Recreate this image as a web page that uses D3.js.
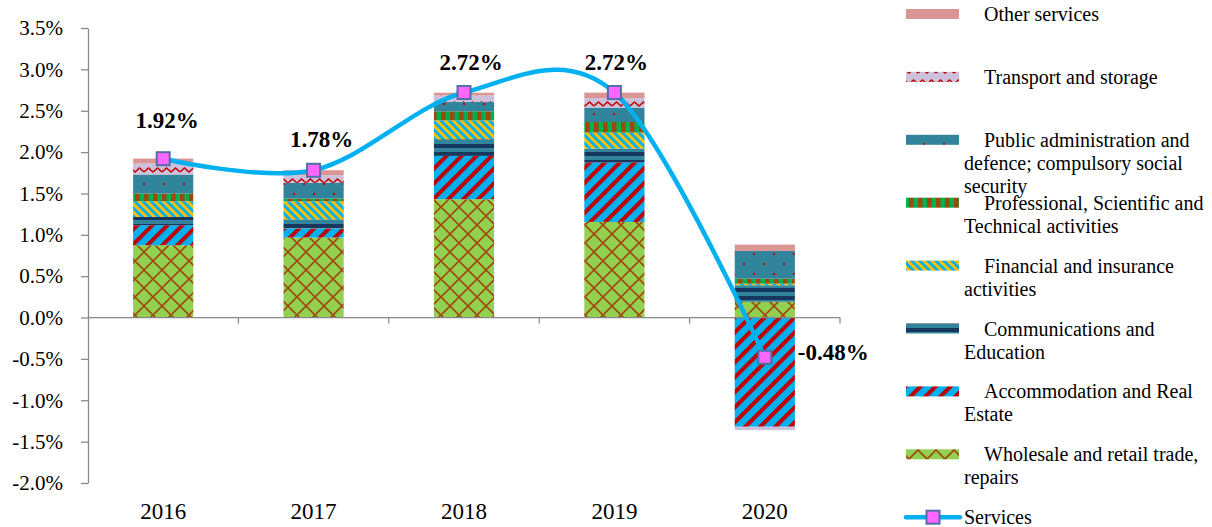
<!DOCTYPE html>
<html>
<head>
    <meta charset="utf-8">
    <title>Services contributions</title>
    <script src="https://d3js.org/d3.v7.min.js"></script>
    <style>
        body { margin: 0; background: #fff; }
        text { font-family: "Liberation Serif", "Times New Roman", serif; fill: #000; }
    </style>
</head>
<body>
<svg width="1212" height="527"></svg>
<script>
    // data (percentage points)
    const years = ["2016", "2017", "2018", "2019", "2020"];
    const wholesale = [0.874, 0.967, 1.430, 1.156, 0.190];
    const accommodation = [0.242, 0.109, 0.524, 0.718, -1.320];
    const communications = [0.100, 0.109, 0.200, 0.169, 0.200];
    const financial = [0.190, 0.220, 0.230, 0.193, 0.020];
    const professional = [0.093, 0.033, 0.109, 0.128, 0.060];
    const publicAdmin = [0.230, 0.190, 0.112, 0.174, 0.335];
    const transport = [0.133, 0.093, 0.080, 0.116, -0.040];
    const otherServices = [0.060, 0.060, 0.033, 0.065, 0.077];
    const services = [1.92, 1.78, 2.72, 2.72, -0.48];
    const yTicks = [-2.0, -1.5, -1.0, -0.5, 0.0, 0.5, 1.0, 1.5, 2.0, 2.5, 3.0, 3.5];

    const keys = ["wholesale", "accommodation", "communications", "financial",
        "professional", "publicAdmin", "transport", "otherServices"];
    const seriesValues = { wholesale, accommodation, communications, financial,
        professional, publicAdmin, transport, otherServices };

    const legendItems = [
        { key: "otherServices", lines: ["Other services"] },
        { key: "transport", lines: ["Transport and storage"] },
        { key: "publicAdmin", lines: ["Public administration and", "defence; compulsory social", "security"] },
        { key: "professional", lines: ["Professional, Scientific and", "Technical activities"] },
        { key: "financial", lines: ["Financial and insurance", "activities"] },
        { key: "communications", lines: ["Communications and", "Education"] },
        { key: "accommodation", lines: ["Accommodation and Real", "Estate"] },
        { key: "wholesale", lines: ["Wholesale and retail trade,", "repairs"] }
    ];

    // label placement: [dx, dy, anchor]
    const labelPlace = [[4, -31, "middle"], [8, -23, "middle"], [7, -23, "middle"], [2, -23, "middle"], [33, 3, "start"]];

    const svg = d3.select("svg");
    const defs = svg.append("defs");

    const x = d3.scaleBand().domain(years).range([88, 840]).paddingInner(0.6).paddingOuter(0.3);
    const y = d3.scaleLinear().domain([-2.0, 3.5]).range([483, 28]);

    // ---- patterns ----
    function pattern(id, w, h, rot) {
        const p = defs.append("pattern").attr("id", id)
            .attr("patternUnits", "userSpaceOnUse")
            .attr("width", w).attr("height", h);
        if (rot) p.attr("patternTransform", `rotate(${rot})`);
        return p;
    }

    let p = pattern("p-wholesale", 18, 18);
    p.append("rect").attr("width", 18).attr("height", 18).attr("fill", "#92D050");
    p.append("path").attr("d", "M0,0L18,18M18,0L0,18").attr("stroke", "#A04A10").attr("stroke-width", 1.6);

    p = pattern("p-accommodation", 10.6, 10.6, 45);
    p.append("rect").attr("width", 10.6).attr("height", 10.6).attr("fill", "#00B0F0");
    p.append("rect").attr("width", 4).attr("height", 10.6).attr("fill", "#C00000");

    p = pattern("p-communications", 8, 8);
    p.append("rect").attr("width", 8).attr("height", 4).attr("fill", "#17375E");
    p.append("rect").attr("y", 4).attr("width", 8).attr("height", 4).attr("fill", "#31849B");

    p = pattern("p-financial", 5.7, 5.7, -45);
    p.append("rect").attr("width", 5.7).attr("height", 5.7).attr("fill", "#00B0F0");
    p.append("rect").attr("width", 2.85).attr("height", 5.7).attr("fill", "#FFC000");

    p = pattern("p-professional", 9, 9);
    p.append("rect").attr("width", 9).attr("height", 9).attr("fill", "#00B050");
    p.append("rect").attr("width", 4.5).attr("height", 9).attr("fill", "#9C4A0C");

    p = pattern("p-publicAdmin", 20, 20);
    p.append("rect").attr("width", 20).attr("height", 20).attr("fill", "#31849B");
    p.append("rect").attr("x", 3).attr("y", 3).attr("width", 2).attr("height", 2).attr("fill", "#C00000");
    p.append("rect").attr("x", 13).attr("y", 13).attr("width", 2).attr("height", 2).attr("fill", "#C00000");

    p = pattern("p-transport", 18, 11);
    p.append("rect").attr("width", 18).attr("height", 11).attr("fill", "#CCC0DA");
    p.append("path").attr("d", "M0,7L4.5,3L9,7L13.5,3L18,7")
        .attr("fill", "none").attr("stroke", "#C00000").attr("stroke-width", 1.6);

    const fills = {
        wholesale: "url(#p-wholesale)",
        accommodation: "url(#p-accommodation)",
        communications: "url(#p-communications)",
        financial: "url(#p-financial)",
        professional: "url(#p-professional)",
        publicAdmin: "url(#p-publicAdmin)",
        transport: "url(#p-transport)",
        otherServices: "#D99694"
    };

    // ---- stacked bars ----
    const rows = years.map((yr, i) => {
        const r = { year: yr };
        keys.forEach(k => r[k] = seriesValues[k][i]);
        return r;
    });
    const stacked = d3.stack().keys(keys).offset(d3.stackOffsetDiverging)(rows);

    svg.append("g").selectAll("g")
        .data(stacked)
        .join("g")
        .attr("fill", d => fills[d.key])
        .selectAll("rect")
        .data(d => d)
        .join("rect")
        .attr("x", d => x(d.data.year))
        .attr("width", x.bandwidth())
        .attr("y", d => y(Math.max(d[0], d[1])))
        .attr("height", d => Math.abs(y(d[0]) - y(d[1])));

    // ---- axes ----
    const axisColor = "#898989";
    const yAxis = svg.append("g").attr("transform", "translate(88,0)")
        .call(d3.axisLeft(y).tickValues(yTicks).tickSize(7).tickSizeOuter(0).tickFormat(d => d.toFixed(1) + "%"));
    yAxis.select(".domain").attr("stroke", axisColor).attr("stroke-width", 1.3);
    yAxis.selectAll(".tick line").attr("stroke", axisColor).attr("stroke-width", 1.3);
    yAxis.selectAll(".tick text").attr("x", -25).attr("font-size", 21)
        .attr("font-family", "Liberation Serif").attr("fill", "#000");

    const xAxis = svg.append("g").attr("transform", `translate(0,${y(0)})`);
    xAxis.append("line").attr("x1", 88).attr("x2", 840)
        .attr("stroke", axisColor).attr("stroke-width", 1.3);
    xAxis.selectAll("line.tk")
        .data(years)
        .join("line")
        .attr("class", "tk")
        .attr("x1", d => x(d) + x.bandwidth() / 2 + x.step() / 2)
        .attr("x2", d => x(d) + x.bandwidth() / 2 + x.step() / 2)
        .attr("y1", 0).attr("y2", 6)
        .attr("stroke", axisColor).attr("stroke-width", 1.3);

    svg.append("g").selectAll("text")
        .data(years)
        .join("text")
        .attr("x", d => x(d) + x.bandwidth() / 2)
        .attr("y", 519)
        .attr("text-anchor", "middle")
        .attr("font-size", 23)
        .text(d => d);

    // ---- services line ----
    const cx = (d, i) => x(years[i]) + x.bandwidth() / 2;
    const line = d3.line().x(cx).y(d => y(d)).curve(d3.curveCardinal.tension(0));
    svg.append("path")
        .datum(services)
        .attr("d", line)
        .attr("fill", "none")
        .attr("stroke", "#00B0F0")
        .attr("stroke-width", 4.5);

    svg.append("g").selectAll("rect")
        .data(services)
        .join("rect")
        .attr("x", (d, i) => cx(d, i) - 6.5)
        .attr("y", d => y(d) - 6.5)
        .attr("width", 13).attr("height", 13)
        .attr("fill", "#FF66FF")
        .attr("stroke", "#4F6FA6")
        .attr("stroke-width", 2);

    svg.append("g").selectAll("text")
        .data(services)
        .join("text")
        .attr("x", (d, i) => cx(d, i) + labelPlace[i][0])
        .attr("y", (d, i) => y(d) + labelPlace[i][1])
        .attr("text-anchor", (d, i) => labelPlace[i][2])
        .attr("font-size", 23)
        .attr("font-weight", "bold")
        .text(d => d.toFixed(2) + "%");

    // ---- legend ----
    const legend = svg.append("g");
    const itemGap = 62.9;
    legendItems.forEach((it, i) => {
        const cy = 14 + i * itemGap;
        legend.append("rect")
            .attr("x", 906).attr("y", cy - 5)
            .attr("width", 53).attr("height", 10)
            .attr("fill", fills[it.key]);
        const t = legend.append("text").attr("font-size", 20);
        it.lines.forEach((ln, j) => {
            t.append("tspan")
                .attr("x", j === 0 ? 984 : 964)
                .attr("y", cy + 7 + j * 23)
                .text(ln);
        });
    });
    const sy = 14 + legendItems.length * itemGap;
    legend.append("line")
        .attr("x1", 906).attr("x2", 960).attr("y1", sy).attr("y2", sy)
        .attr("stroke", "#00B0F0").attr("stroke-width", 4.5).attr("stroke-linecap", "round");
    legend.append("rect")
        .attr("x", 926.5).attr("y", sy - 6.5).attr("width", 13).attr("height", 13)
        .attr("fill", "#FF66FF").attr("stroke", "#4F6FA6").attr("stroke-width", 2);
    legend.append("text").attr("x", 964).attr("y", sy + 7).attr("font-size", 20).text("Services");
</script>
</body>
</html>
